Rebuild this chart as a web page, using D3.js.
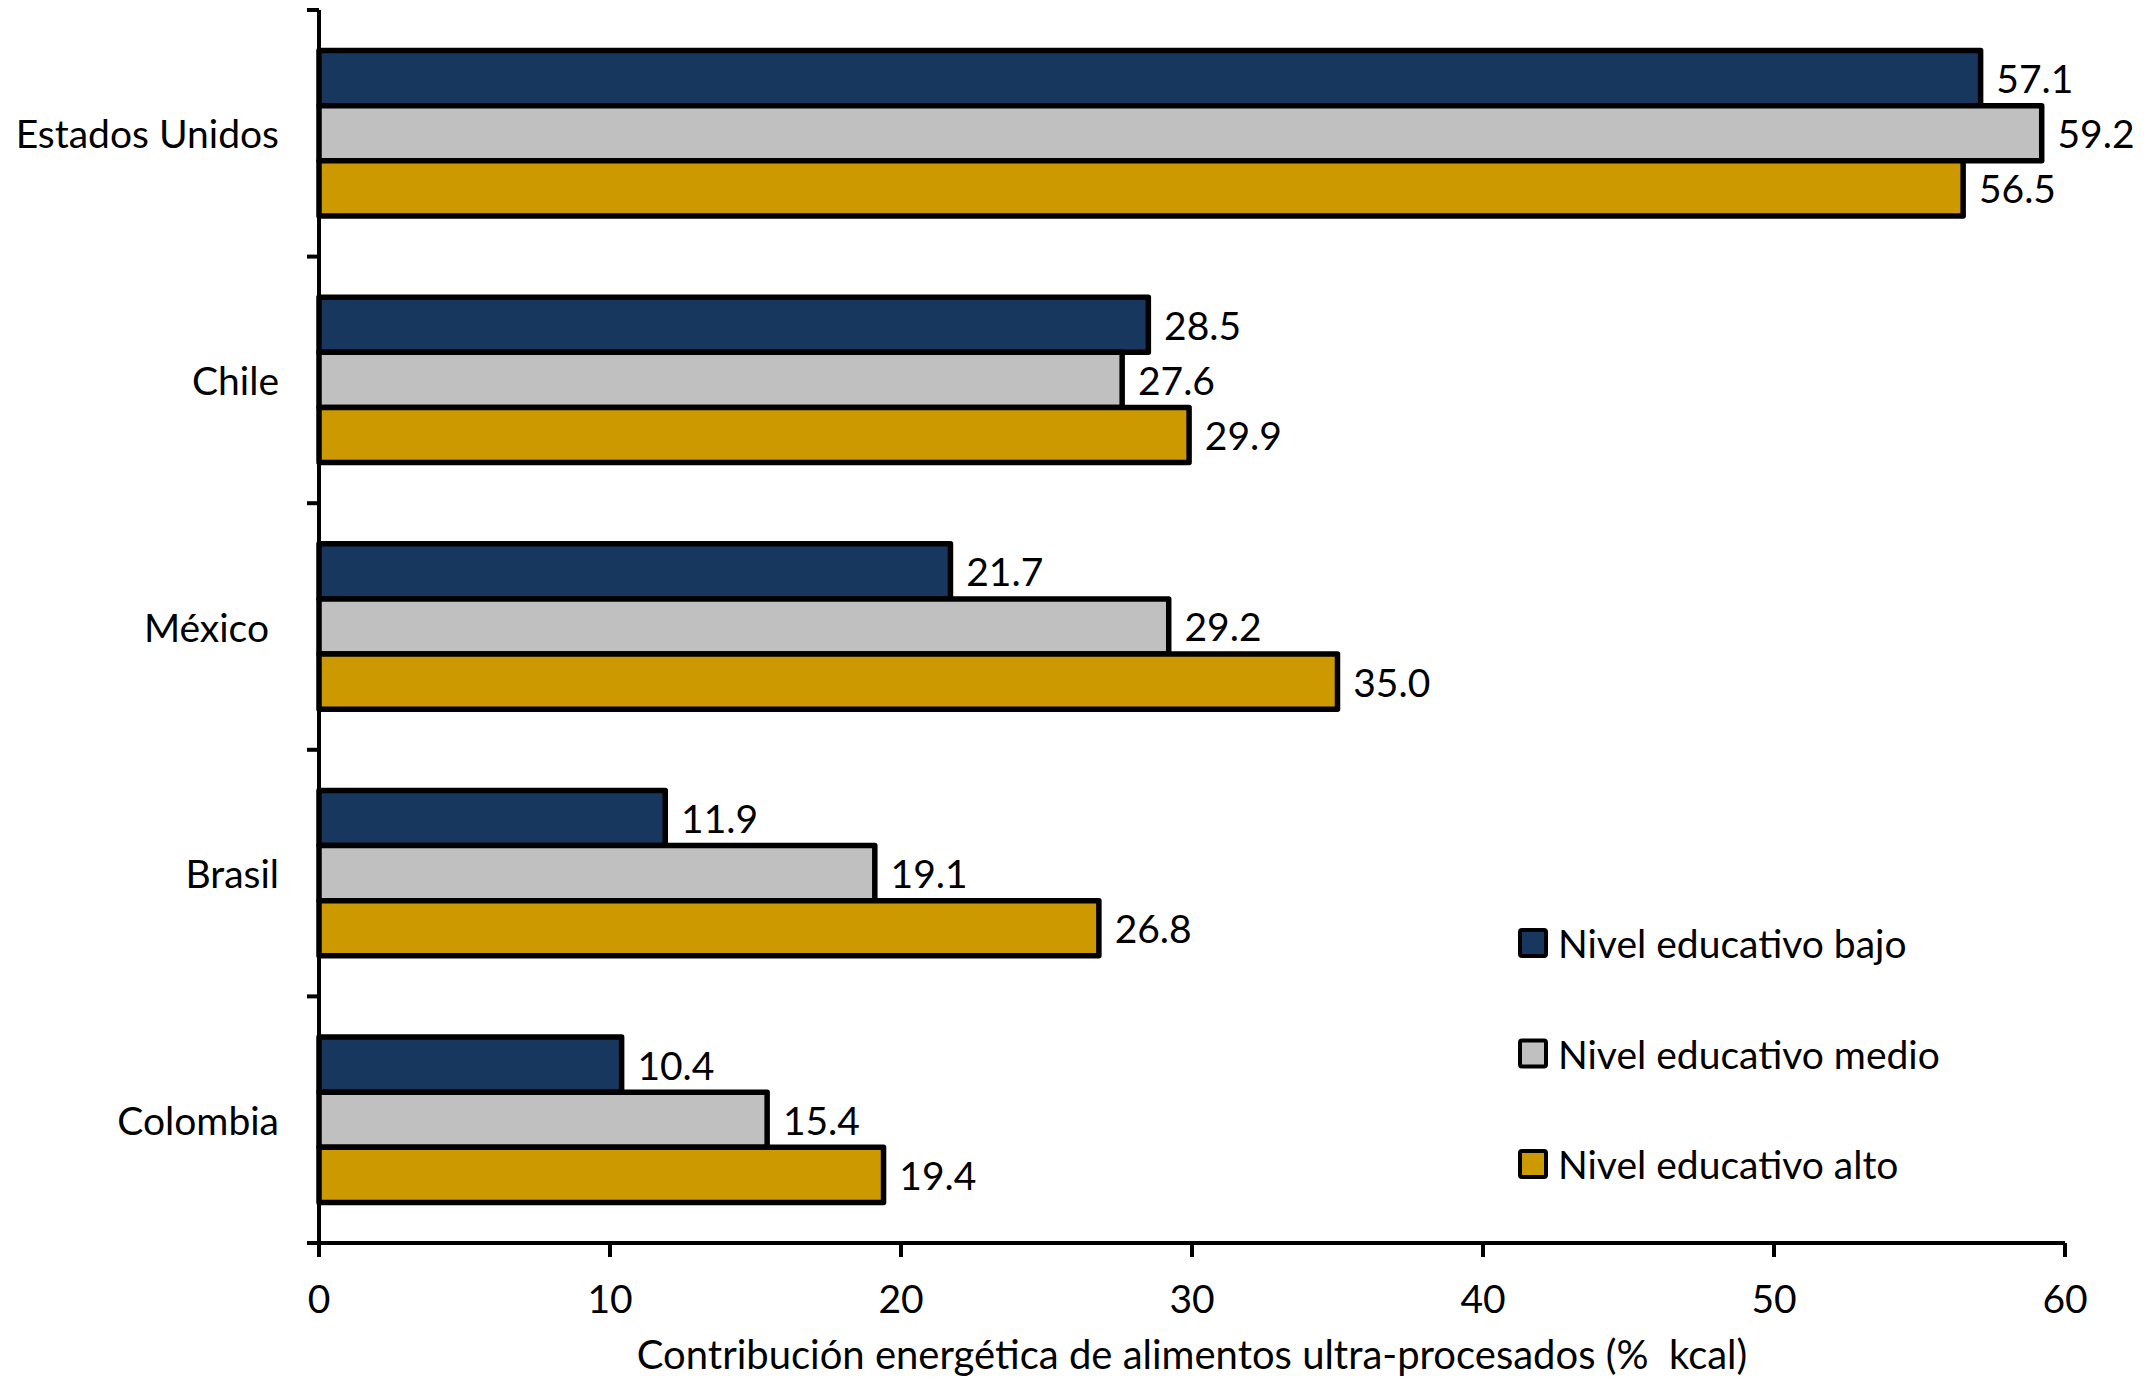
<!DOCTYPE html>
<html><head><meta charset="utf-8">
<script src="https://cdn.jsdelivr.net/npm/d3@7"></script>
<style>
html,body{margin:0;padding:0;background:#fff;}
svg text{font-family:Lato,"Open Sans",sans-serif;fill:#000;}
</style></head>
<body><svg id="chart" width="2154" height="1379"></svg>
<script>
const categories = ["Estados Unidos","Chile","México\u00A0","Brasil","Colombia"];
const seriesNames = ["Nivel educativo bajo","Nivel educativo medio","Nivel educativo alto"];
const bajo  = [57.1, 28.5, 21.7, 11.9, 10.4];
const medio = [59.2, 27.6, 29.2, 19.1, 15.4];
const alto  = [56.5, 29.9, 35.0, 26.8, 19.4];
const colors = ["#17375E","#C0C0C0","#CC9900"];
const xTicks = [0,10,20,30,40,50,60];
const xTitle = "Contribución energética de alimentos ultra-procesados (%\u00A0\u00A0kcal)";

const seriesValues = [bajo, medio, alto];
const svg = d3.select("#chart");
const FS = 39, SW = 5.5;

const x = d3.scaleLinear().domain([0,60]).range([319,2065]);
const y = d3.scaleBand().domain(categories).range([10,1243]).paddingInner(0).paddingOuter(0);
const sub = d3.scaleBand().domain(seriesNames).range([0,y.bandwidth()]).paddingInner(0).paddingOuter(0.737);

// bars
categories.forEach((c,ci)=>{
  const g = svg.append("g").attr("transform",`translate(0,${y(c)})`);
  seriesNames.forEach((s,si)=>{
    const v = seriesValues[si][ci];
    g.append("rect")
      .attr("x", x(0)).attr("y", sub(s))
      .attr("width", x(v)-x(0)).attr("height", sub.bandwidth())
      .attr("fill", colors[si]).attr("stroke","#000").attr("stroke-width",SW)
      .attr("stroke-linejoin","round");
  });
  seriesNames.forEach((s,si)=>{
    const v = seriesValues[si][ci];
    g.append("text")
      .attr("x", x(v)+SW/2+13).attr("y", sub(s)+sub.bandwidth()/2)
      .attr("dominant-baseline","central")
      .attr("font-size",FS)
      .text(v.toFixed(1));
  });
});

// y axis
const yEdges = categories.map(c=>y(c)).concat([y.range()[1]]);
svg.append("line").attr("x1",x(0)).attr("x2",x(0)).attr("y1",yEdges[0]).attr("y2",y.range()[1]+14)
  .attr("stroke","#000").attr("stroke-width",4);
svg.selectAll(".ytick").data(yEdges).enter().append("line")
  .attr("x1",x(0)-12).attr("x2",x(0)).attr("y1",d=>d).attr("y2",d=>d)
  .attr("stroke","#000").attr("stroke-width",4);
svg.selectAll(".ylab").data(categories).enter().append("text")
  .attr("x",279).attr("y",d=>y(d)+y.bandwidth()/2)
  .attr("text-anchor","end").attr("dominant-baseline","central")
  .attr("font-size",FS).text(d=>d);

// x axis
const axisY = y.range()[1];
svg.append("line").attr("x1",x(0)-12).attr("x2",x(60)).attr("y1",axisY).attr("y2",axisY)
  .attr("stroke","#000").attr("stroke-width",4);
svg.selectAll(".xtick").data(xTicks).enter().append("line")
  .attr("x1",d=>x(d)).attr("x2",d=>x(d)).attr("y1",axisY).attr("y2",axisY+14)
  .attr("stroke","#000").attr("stroke-width",4);
svg.selectAll(".xlab").data(xTicks).enter().append("text")
  .attr("x",d=>x(d)).attr("y",1298).attr("text-anchor","middle").attr("dominant-baseline","central")
  .attr("font-size",FS).text(d=>d);
svg.append("text").attr("x",(x(0)+x(60))/2).attr("y",1354)
  .attr("text-anchor","middle").attr("dominant-baseline","central")
  .attr("font-size",40).text(xTitle);

// legend
const legY = d3.scalePoint().domain(seriesNames).range([943,1164]);
seriesNames.forEach((s,si)=>{
  svg.append("rect").attr("x",1520).attr("y",legY(s)-13).attr("width",26).attr("height",26)
    .attr("fill",colors[si]).attr("stroke","#000").attr("stroke-width",4).attr("rx",2);
  svg.append("text").attr("x",1558).attr("y",legY(s)).attr("dominant-baseline","central")
    .attr("font-size",FS).text(s);
});
</script></body></html>
